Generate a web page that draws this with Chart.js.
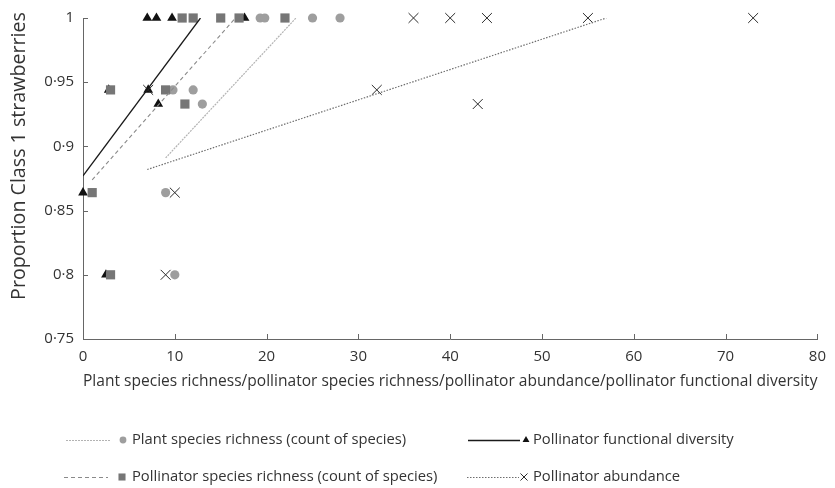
<!DOCTYPE html>
<html>
<head>
<meta charset="utf-8">
<script src="https://cdn.jsdelivr.net/npm/chart.js@4.4.1/dist/chart.umd.min.js"></script>
<style>
  html, body { margin: 0; padding: 0; background: #fff; }
  #wrap { width: 835px; height: 488px; }
</style>
</head>
<body>
<div id="wrap"><canvas id="chart"></canvas></div>
<script>
// plant species richness (circles)
const plantX = [19.3, 19.8, 25, 28, 9.8, 12, 13, 9, 10];
const plantY = [1, 1, 1, 1, 0.944, 0.944, 0.933, 0.864, 0.8];
// pollinator species richness (squares)
const pollRichX = [10.8, 12, 15, 17, 22, 3, 9, 11.1, 1, 3];
const pollRichY = [1, 1, 1, 1, 1, 0.944, 0.944, 0.933, 0.864, 0.8];
// pollinator functional diversity (triangles)
const funcX = [7, 8, 9.7, 17.6, 2.8, 7.1, 8.2, 0, 2.5];
const funcY = [1, 1, 1, 1, 0.944, 0.944, 0.933, 0.864, 0.8];
// pollinator abundance (crosses)
const abundX = [36, 40, 44, 55, 73, 32, 7.1, 43, 10, 9];
const abundY = [1, 1, 1, 1, 1, 0.944, 0.944, 0.933, 0.864, 0.8];

// trendline end points [x0, x1], [y0, y1]
const plantTrendX = [9, 23.2];
const plantTrendY = [0.891, 1];
const pollRichTrendX = [1, 16.6];
const pollRichTrendY = [0.874, 1];
const funcTrendX = [0, 12.8];
const funcTrendY = [0.877, 1];
const abundTrendX = [7, 57];
const abundTrendY = [0.882, 1];

const xTicks = [0, 10, 20, 30, 40, 50, 60, 70, 80];
const yTicks = [0.75, 0.8, 0.85, 0.9, 0.95, 1];

const labels = [
  "Plant species richness (count of species)",
  "Pollinator species richness (count of species)",
  "Pollinator functional diversity",
  "Pollinator abundance"
];
const xTitle = "Plant species richness/pollinator species richness/pollinator abundance/pollinator functional diversity";
const yTitle = "Proportion Class 1 strawberries";

const pts = function (xs, ys) {
  return xs.map(function (x, i) { return { x: x, y: ys[i] }; });
};

const FONT = "'Open Sans', sans-serif";

// pick a font size so a text gets a given width
const measureCtx = document.createElement("canvas").getContext("2d");
const fitSize = function (text, width) {
  measureCtx.font = "100px " + FONT;
  return 100 * width / measureCtx.measureText(text).width;
};
const xTitleSize = fitSize(xTitle, 765);
const yTitleSize = fitSize(yTitle, 288);
const legendSize = fitSize("Plant species richness (count", 198);

const datasets = [
  { label: "plantTrend", data: pts(plantTrendX, plantTrendY), showLine: true, pointRadius: 0,
    borderColor: "#b3b3b3", borderWidth: 1.2, borderDash: [2, 1], order: 0 },
  { label: "pollRichTrend", data: pts(pollRichTrendX, pollRichTrendY), showLine: true, pointRadius: 0,
    borderColor: "#8a8a8a", borderWidth: 1.1, borderDash: [4, 3], order: 0 },
  { label: "funcTrend", data: pts(funcTrendX, funcTrendY), showLine: true, pointRadius: 0,
    borderColor: "#1a1a1a", borderWidth: 1.3, order: 0 },
  { label: "abundTrend", data: pts(abundTrendX, abundTrendY), showLine: true, pointRadius: 0,
    borderColor: "#6e6e6e", borderWidth: 1.2, borderDash: [1.5, 1.5], order: 0 },
  { label: labels[3], data: pts(abundX, abundY), pointStyle: "crossRot", pointRadius: 7, clip: false,
    borderColor: "#2a2a2a", backgroundColor: "#2a2a2a", borderWidth: 1, order: 1 },
  { label: labels[1], data: pts(pollRichX, pollRichY), pointStyle: "rect", pointRadius: 6.5, clip: false,
    borderColor: "#767676", backgroundColor: "#767676", borderWidth: 0, order: 2 },
  { label: labels[0], data: pts(plantX, plantY), pointStyle: "circle", pointRadius: 4.6, clip: false,
    borderColor: "#9e9e9e", backgroundColor: "#9e9e9e", borderWidth: 0, order: 3 },
  { label: labels[2], data: pts(funcX, funcY), pointStyle: "triangle", pointRadius: 5.6, clip: false,
    borderColor: "#111", backgroundColor: "#111", borderWidth: 0, order: 4 }
];

// inward tick marks, rotated y title and the two-row legend
const extras = {
  id: "extras",
  afterDraw: function (chart) {
    const ctx = chart.ctx;
    const xs = chart.scales.x, ys = chart.scales.y;
    const area = chart.chartArea;
    ctx.save();
    ctx.strokeStyle = "#666";
    ctx.lineWidth = 1;
    ctx.beginPath();
    xTicks.forEach(function (v) {
      if (v === 0) return;
      const px = Math.round(xs.getPixelForValue(v)) + 0.5;
      ctx.moveTo(px, area.bottom);
      ctx.lineTo(px, area.bottom - 5);
    });
    yTicks.forEach(function (v) {
      if (v === 0.75) return;
      const py = Math.round(ys.getPixelForValue(v)) + 0.5;
      ctx.moveTo(area.left, py);
      ctx.lineTo(area.left + 5, py);
    });
    ctx.stroke();

    // y title
    ctx.fillStyle = "#333";
    ctx.font = yTitleSize + "px " + FONT;
    ctx.textAlign = "center";
    ctx.textBaseline = "middle";
    ctx.translate(19, 156);
    ctx.rotate(-Math.PI / 2);
    ctx.fillText(yTitle, 0, 0);
    ctx.restore();

    // legend
    const items = [
      { ds: 0, mk: 6, lx: 66, lw: 44, mx: 123, tx: 132, y: 440 },
      { ds: 2, mk: 7, lx: 468, lw: 52, mx: 526, tx: 533, y: 440 },
      { ds: 1, mk: 5, lx: 64, lw: 44, mx: 122, tx: 132, y: 477 },
      { ds: 3, mk: 4, lx: 467, lw: 52, mx: 524, tx: 533, y: 477 }
    ];
    const legendRadius = { crossRot: 5, rect: 5, circle: 3.4, triangle: 4 };
    ctx.save();
    items.forEach(function (it) {
      const line = chart.data.datasets[it.ds];
      const mark = chart.data.datasets[it.mk];
      ctx.save();
      ctx.strokeStyle = line.borderColor;
      ctx.lineWidth = line.borderWidth;
      ctx.setLineDash(line.borderDash || []);
      ctx.beginPath();
      ctx.moveTo(it.lx, it.y + 0.5);
      ctx.lineTo(it.lx + it.lw, it.y + 0.5);
      ctx.stroke();
      ctx.restore();
      ctx.save();
      ctx.fillStyle = mark.backgroundColor;
      ctx.strokeStyle = mark.borderColor;
      Chart.helpers.drawPoint(ctx, {
        pointStyle: mark.pointStyle,
        radius: legendRadius[mark.pointStyle],
        rotation: 0,
        borderWidth: mark.pointStyle === "crossRot" ? 1 : 0
      }, it.mx, it.y);
      ctx.restore();
      ctx.fillStyle = "#333";
      ctx.font = legendSize + "px " + FONT;
      ctx.textAlign = "left";
      ctx.textBaseline = "middle";
      ctx.fillText(mark.label, it.tx, it.y);
    });
    ctx.restore();
  }
};

const config = {
  type: "scatter",
  data: { datasets: datasets },
  options: {
    responsive: true,
    maintainAspectRatio: false,
    animation: false,
    layout: { padding: { top: 17, right: 17, bottom: 97, left: 0 } },
    plugins: { legend: { display: false }, tooltip: { enabled: false } },
    scales: {
      x: {
        type: "linear",
        min: 0,
        max: 80,
        afterFit: function (s) { s.height = 52; },
        afterBuildTicks: function (s) { s.ticks = xTicks.map(function (v) { return { value: v }; }); },
        grid: { display: false, drawTicks: false },
        border: { display: true, color: "#666", width: 1 },
        ticks: { padding: 9, color: "#333", font: { family: FONT, size: 15 } },
        title: {
          display: true,
          text: xTitle,
          color: "#333",
          padding: { top: 0, bottom: 0 },
          font: { family: FONT, size: xTitleSize }
        }
      },
      y: {
        type: "linear",
        min: 0.75,
        max: 1,
        afterFit: function (s) { s.width = 83; },
        afterBuildTicks: function (s) { s.ticks = yTicks.map(function (v) { return { value: v }; }); },
        grid: { display: false, drawTicks: false },
        border: { display: true, color: "#666", width: 1 },
        ticks: {
          padding: 9,
          color: "#333",
          font: { family: FONT, size: 15 },
          callback: function (v) { return String(Number(v.toFixed(2))).replace(".", "\u00b7"); }
        }
      }
    }
  },
  plugins: [extras]
};

const chart = new Chart(document.getElementById("chart").getContext("2d"), config);
</script>
</body>
</html>
